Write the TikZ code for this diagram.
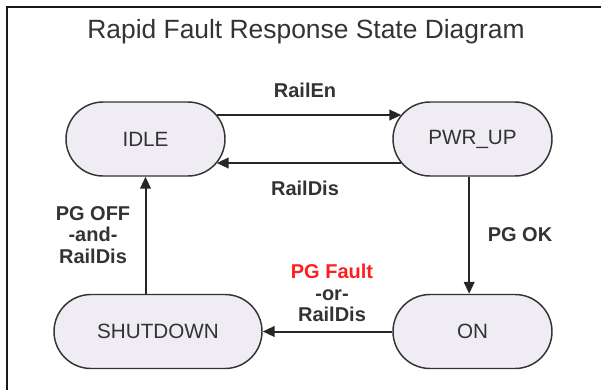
\documentclass[tikz,border=0pt]{standalone}
\usepackage{fontspec}
\setmainfont{Liberation Sans}
\usepackage{tikz}
\usetikzlibrary{arrows.meta,calc}

\definecolor{stfill}{RGB}{239,237,243}
\definecolor{txtgray}{RGB}{51,51,51}
\definecolor{faultred}{RGB}{255,30,30}

\tikzset{
  state/.style={draw=txtgray,line width=1.1pt,fill=stfill,rectangle,rounded corners=27.75pt,
    minimum width=119.25pt,minimum height=55.5pt,inner sep=0pt,text=txtgray,
    font=\fontsize{15.5}{18}\selectfont},
  trans/.style={line width=1.5pt,draw=black!85,-{Triangle[length=9pt,width=8pt]}},
  lbl/.style={inner sep=0.75pt,align=center,text=txtgray,font=\fontsize{15}{16}\selectfont\bfseries}
}

\begin{document}
\begin{tikzpicture}[x=0.75pt,y=0.75pt,yscale=-1,xscale=1]
\useasboundingbox (0,0) rectangle (601,390);

%Frame
\draw[line width=1.6pt,draw=black!90] (601,7) -- (7,7) -- (7,390);

% Title
\node (title) at (306,32) [inner sep=0.75pt,text=txtgray,font=\fontsize{19.8}{22}\selectfont] {Rapid Fault Response State Diagram};

%States
\node (IDLE) at (145.5,139) [state] {IDLE};
\node (PWR_UP) at (472.5,139) [state] {PWR\_UP};
\node (SHUTDOWN) at (158,331.5) [state,minimum width=156pt] {SHUTDOWN};
\node (ON) at (472.5,331.5) [state] {ON};

%Transitions
\draw[trans] ($(IDLE.east)+(-9,-24)$) -- ($(PWR_UP.west)+(9,-24)$);
\draw[trans] ($(PWR_UP.west)+(9,24)$) -- ($(IDLE.east)+(-9,24)$);
\draw[trans] ([xshift=-2.5]PWR_UP.south) -- ([xshift=-2.5]ON.north);
\draw[trans] (ON.west) -- (SHUTDOWN.east);
\draw[trans] (SHUTDOWN.north -| IDLE.south) -- (IDLE.south);

% Text Node
\node (railen) at (305,90) [lbl] {RailEn};
% Text Node
\node (raildis) at (305,188) [lbl] {RailDis};
% Text Node
\node (pgok) at (520,235) [lbl] {PG OK};
% Text Node
\node (pgfault) at (332,293) [lbl] {\textcolor{faultred}{PG Fault}\\-or-\\RailDis};
% Text Node
\node (pgoff) at (93,235) [lbl] {PG OFF\\-and-\\RailDis};

\end{tikzpicture}
\end{document}
